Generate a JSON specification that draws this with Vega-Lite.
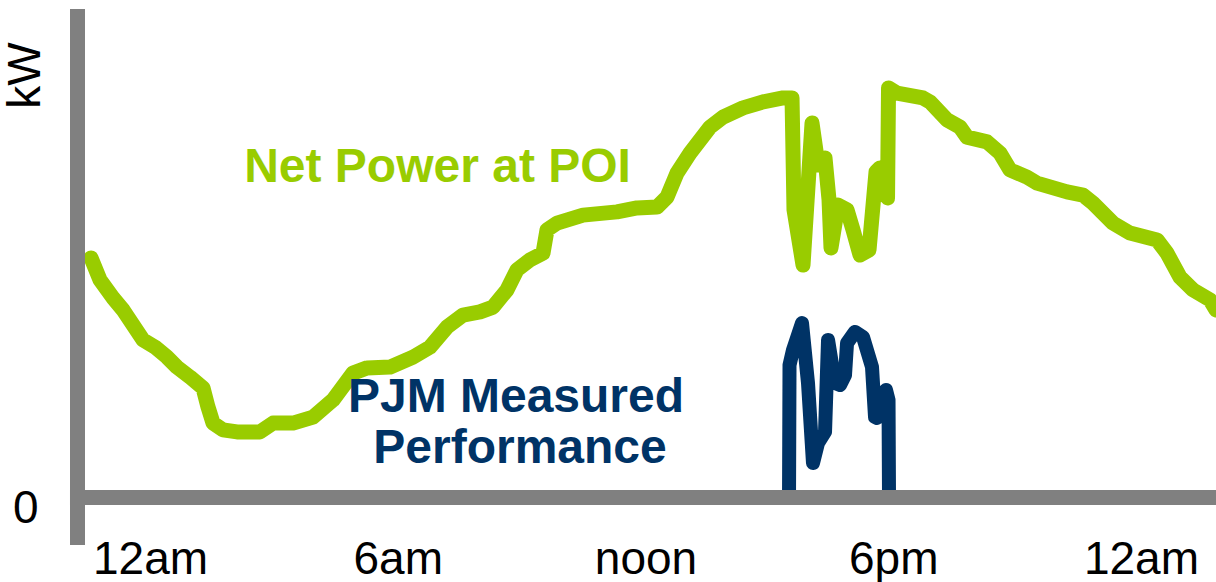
{
  "$schema": "https://vega.github.io/schema/vega-lite/v6.json",
  "width": 1216,
  "height": 582,
  "autosize": {"type": "none"},
  "padding": 0,
  "background": "white",
  "config": {"view": {"stroke": null}},
  "datasets": {
    "green": [
      {"h": -1.429, "v": 59.9}, {"h": -1.211, "v": 54.4}, {"h": -0.896, "v": 49.9}, {"h": -0.654, "v": 46.9},
      {"h": -0.17, "v": 39.4}, {"h": 0.121, "v": 37.6}, {"h": 0.412, "v": 35.1}, {"h": 0.654, "v": 32.6},
      {"h": 0.969, "v": 30.1}, {"h": 1.284, "v": 27.4}, {"h": 1.405, "v": 22.6}, {"h": 1.526, "v": 18.6},
      {"h": 1.768, "v": 16.9}, {"h": 2.107, "v": 16.4}, {"h": 2.664, "v": 16.4}, {"h": 2.979, "v": 18.6},
      {"h": 3.463, "v": 18.6}, {"h": 3.948, "v": 20.1}, {"h": 4.432, "v": 24.4}, {"h": 4.916, "v": 31.1},
      {"h": 5.256, "v": 32.4}, {"h": 5.813, "v": 32.6}, {"h": 6.37, "v": 35.1}, {"h": 6.781, "v": 37.6},
      {"h": 7.193, "v": 42.6}, {"h": 7.581, "v": 45.6}, {"h": 7.992, "v": 46.4}, {"h": 8.307, "v": 47.6},
      {"h": 8.646, "v": 51.9}, {"h": 8.888, "v": 56.9}, {"h": 9.203, "v": 59.4}, {"h": 9.518, "v": 61.1},
      {"h": 9.615, "v": 66.9}, {"h": 9.857, "v": 68.6}, {"h": 10.487, "v": 70.6}, {"h": 11.31, "v": 71.4},
      {"h": 11.795, "v": 72.4}, {"h": 12.279, "v": 72.6}, {"h": 12.521, "v": 75.1}, {"h": 12.763, "v": 81.1},
      {"h": 13.078, "v": 86.1}, {"h": 13.563, "v": 92.6}, {"h": 13.877, "v": 95.1}, {"h": 14.362, "v": 97.4},
      {"h": 14.846, "v": 98.9}, {"h": 15.331, "v": 99.9}, {"h": 15.549, "v": 99.9}, {"h": 15.597, "v": 71.9},
      {"h": 15.815, "v": 58.1}, {"h": 16.033, "v": 93.6}, {"h": 16.178, "v": 83.1}, {"h": 16.348, "v": 84.9},
      {"h": 16.445, "v": 74.4}, {"h": 16.493, "v": 62.4}, {"h": 16.663, "v": 73.1}, {"h": 16.881, "v": 71.9},
      {"h": 17.026, "v": 66.9}, {"h": 17.196, "v": 60.6}, {"h": 17.414, "v": 61.9}, {"h": 17.583, "v": 81.4},
      {"h": 17.68, "v": 82.4}, {"h": 17.862, "v": 74.9}, {"h": 17.886, "v": 102.4}, {"h": 18.092, "v": 101.1},
      {"h": 18.721, "v": 99.9}, {"h": 18.891, "v": 98.9}, {"h": 19.303, "v": 94.4}, {"h": 19.617, "v": 92.6},
      {"h": 19.787, "v": 90.1}, {"h": 20.271, "v": 88.9}, {"h": 20.586, "v": 86.1}, {"h": 20.828, "v": 81.9},
      {"h": 21.24, "v": 80.1}, {"h": 21.482, "v": 78.6}, {"h": 22.209, "v": 76.4}, {"h": 22.596, "v": 75.6},
      {"h": 22.838, "v": 73.6}, {"h": 23.323, "v": 68.6}, {"h": 23.734, "v": 66.1}, {"h": 24.388, "v": 64.4},
      {"h": 24.63, "v": 61.1}, {"h": 24.945, "v": 55.1}, {"h": 25.26, "v": 51.9}, {"h": 25.672, "v": 49.4},
      {"h": 25.817, "v": 46.9}
    ],
    "blue": [
      {"h": 15.476, "v": 0}, {"h": 15.488, "v": 33.1}, {"h": 15.573, "v": 36.9}, {"h": 15.791, "v": 43.6},
      {"h": 15.936, "v": 28.6}, {"h": 16.057, "v": 8.6}, {"h": 16.178, "v": 13.6}, {"h": 16.348, "v": 16.4},
      {"h": 16.421, "v": 39.4}, {"h": 16.59, "v": 28.6}, {"h": 16.711, "v": 28.1}, {"h": 16.832, "v": 30.6},
      {"h": 16.881, "v": 38.6}, {"h": 17.074, "v": 41.4}, {"h": 17.268, "v": 40.1}, {"h": 17.486, "v": 32.6},
      {"h": 17.559, "v": 20.1}, {"h": 17.607, "v": 19.9}, {"h": 17.825, "v": 26.9}, {"h": 17.886, "v": 24.4},
      {"h": 17.898, "v": 0}
    ],
    "vaxis": [{"h": -1.756, "v": -11.9, "v2": 122.1}],
    "haxis": [{"v": 0, "h": -1.938, "h2": 25.82}],
    "glabel": [{"h": 6.963, "v": 78.9, "t": "Net Power at POI"}],
    "blabel": [
      {"h": 8.864, "v": 21.4, "t": "PJM Measured"},
      {"h": 8.961, "v": 8.6, "t": "Performance"}
    ]
  },
  "encoding": {
    "x": {
      "field": "h", "type": "quantitative",
      "scale": {"domain": [-3.633, 25.817], "nice": false, "zero": false},
      "axis": {
        "title": null, "values": [0, 6, 12, 18, 24],
        "labelExpr": "datum.value == 6 ? '6am' : datum.value == 12 ? 'noon' : datum.value == 18 ? '6pm' : '12am'",
        "domain": false, "ticks": false, "tickSize": 0, "grid": false,
        "labelFont": "Liberation Sans", "labelFontSize": 46, "labelColor": "#000000",
        "labelBaseline": "alphabetic", "labelPadding": 0, "offset": -9,
        "labelFlush": false, "labelOverlap": false
      }
    },
    "y": {
      "field": "v", "type": "quantitative",
      "scale": {"domain": [-21.125, 124.375], "nice": false, "zero": false},
      "axis": {
        "title": "kW", "values": [0],
        "domain": false, "ticks": false, "tickSize": 0, "grid": false,
        "labelFont": "Liberation Sans", "labelFontSize": 46, "labelColor": "#000000",
        "labelAlign": "right", "labelBaseline": "alphabetic", "labelOffset": 24.5,
        "labelPadding": 0, "offset": -38,
        "titleFont": "Liberation Sans", "titleFontSize": 46, "titleFontWeight": "normal", "titleColor": "#000000",
        "titleAngle": 270, "titleAlign": "center", "titleBaseline": "middle",
        "titleX": -13, "titleY": 75
      }
    }
  },
  "layer": [
    {
      "data": {"name": "green"},
      "mark": {"type": "line", "color": "#99CC00", "strokeWidth": 15, "strokeCap": "round", "strokeJoin": "round"}
    },
    {
      "data": {"name": "blue"},
      "mark": {"type": "line", "color": "#003366", "strokeWidth": 14, "strokeCap": "round", "strokeJoin": "round"}
    },
    {
      "data": {"name": "vaxis"},
      "mark": {"type": "rule", "color": "#808080", "strokeWidth": 15},
      "encoding": {"y2": {"field": "v2"}}
    },
    {
      "data": {"name": "haxis"},
      "mark": {"type": "rule", "color": "#808080", "strokeWidth": 15},
      "encoding": {"x2": {"field": "h2"}}
    },
    {
      "data": {"name": "glabel"},
      "mark": {"type": "text", "color": "#99CC00", "font": "Liberation Sans", "fontSize": 48, "fontWeight": "bold", "align": "center", "baseline": "alphabetic"},
      "encoding": {"text": {"field": "t"}}
    },
    {
      "data": {"name": "blabel"},
      "mark": {"type": "text", "color": "#003366", "font": "Liberation Sans", "fontSize": 48, "fontWeight": "bold", "align": "center", "baseline": "alphabetic"},
      "encoding": {"text": {"field": "t"}}
    }
  ]
}
